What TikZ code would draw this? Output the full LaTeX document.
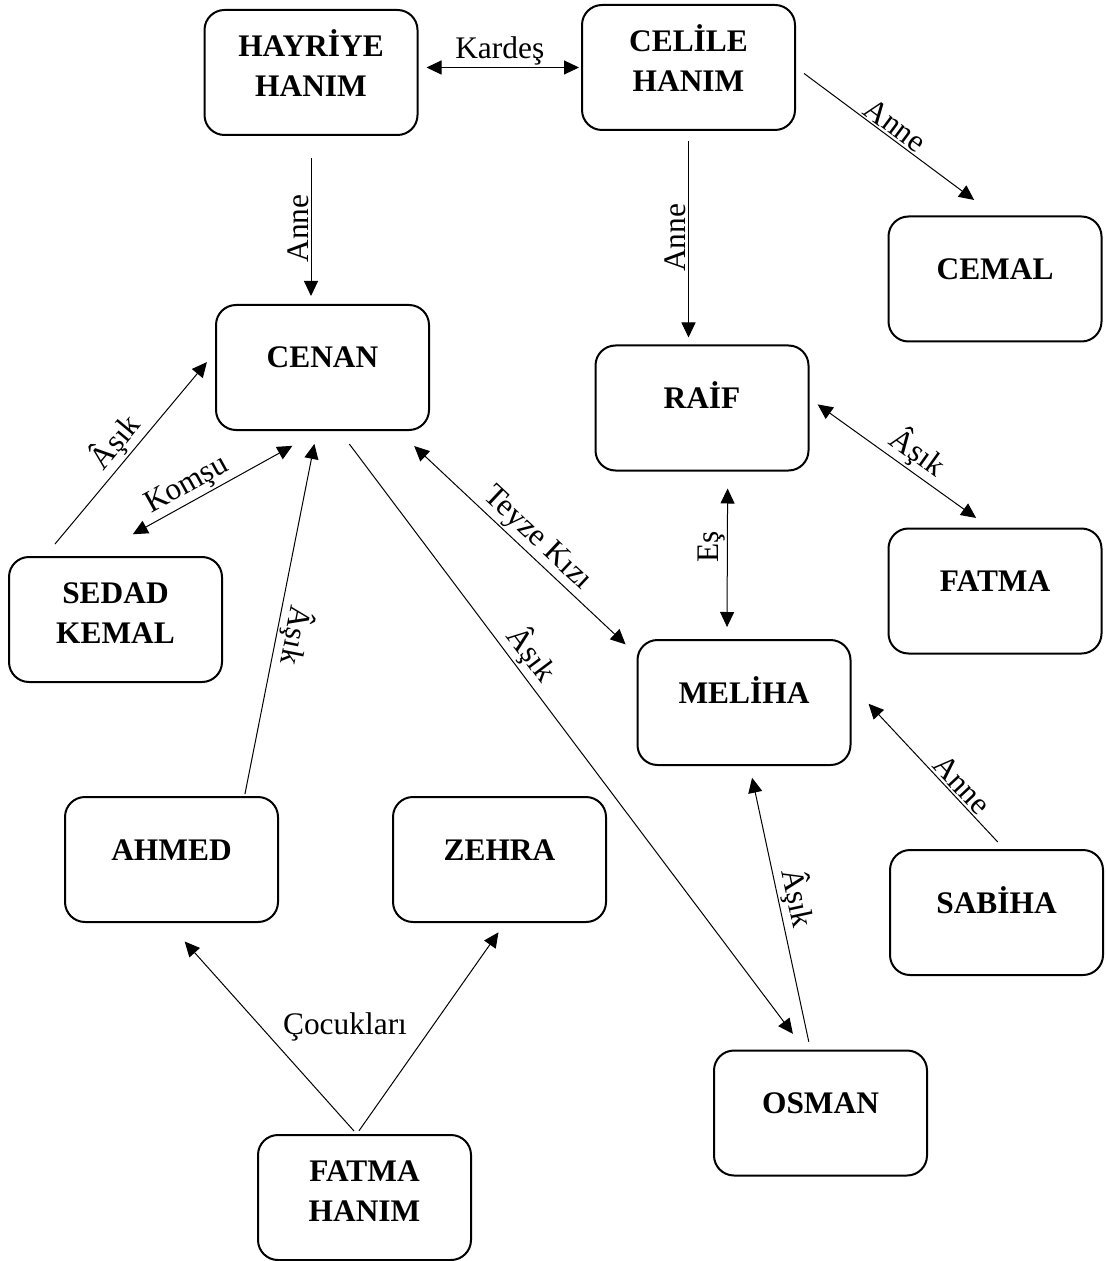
\documentclass[tikz,border=0pt]{standalone}
\usepackage{fontspec}
\setmainfont{Liberation Serif}
\usepackage{tikz}
\usetikzlibrary{arrows.meta}
\tikzstyle{kisi} = [rectangle, rounded corners=10pt, minimum width=106.5pt, minimum height=62.5pt, text centered, draw=black, line width=1pt, font=\bfseries\fontsize{15.7}{20}\selectfont, text height=11pt, text depth=10.5pt]
\tikzstyle{kisiiki} = [kisi, align=center, text height=31pt, text depth=6.6pt]
\tikzstyle{etiket} = [font=\fontsize{15.7}{19}\selectfont, inner sep=1pt]
\tikzstyle{ok} = [line width=0.5pt, -{Triangle[length=7.5pt,width=7pt]}]
\tikzstyle{ciftok} = [line width=0.5pt, {Triangle[length=7.5pt,width=7pt]}-{Triangle[length=7.5pt,width=7pt]}]

\begin{document}
\begin{tikzpicture}[x=0.5pt, y=-0.5pt]
\useasboundingbox (0,0) rectangle (1106,1261);

% Kutular
\node (hayriye) [kisiiki] at (311,72.5) {HAYRİYE\\HANIM};
\node (celile) [kisiiki] at (688.5,67.5) {CELİLE\\HANIM};
\node (cemal) [kisi] at (995,279) {CEMAL};
\node (cenan) [kisi] at (322.5,367.5) {CENAN};
\node (raif) [kisi] at (702,408) {RAİF};
\node (fatma) [kisi] at (995,591) {FATMA};
\node (sedad) [kisiiki] at (115.5,619.5) {SEDAD\\KEMAL};
\node (meliha) [kisi] at (744,702.5) {MELİHA};
\node (ahmed) [kisi] at (171.5,859.5) {AHMED};
\node (zehra) [kisi] at (499.5,859.5) {ZEHRA};
\node (sabiha) [kisi] at (996.5,912.5) {SABİHA};
\node (osman) [kisi] at (820.5,1113) {OSMAN};
\node (fatmah) [kisiiki] at (364.5,1197.5) {FATMA\\HANIM};
\node (cocuk) [etiket] at (345,1027) {Çocukları}; % iki okun ortak etiketi

% Oklar
\draw [ciftok, shorten <=4pt, shorten >=1pt] (hayriye.east |- celile.west) -- (celile.west) node [etiket, midway, above] {Kardeş};
\draw [ok, shorten <=11pt, shorten >=4pt] (hayriye.south) -- (hayriye.south |- cenan.north) node [etiket, pos=0.55, rotate=90, anchor=south] {Anne};
\draw [ok, shorten <=5pt, shorten >=13pt] (celile.east) -- (cemal.north) node [etiket, pos=0.46, above, sloped] {Anne};
\draw [ok, shorten <=5pt, shorten >=3.5pt] (celile.south) -- (celile.south |- raif.north) node [etiket, midway, rotate=90, anchor=south] {Anne};
\draw [ok, shorten <=7.8pt, shorten >=6.3pt] (sedad.138) -- (cenan.172) node [etiket, midway, above, sloped] {Âşık};
\draw [ciftok, shorten <=22.4pt, shorten >=15.3pt] (sedad.109) -- (cenan.267) node [etiket, pos=0.45, above, sloped] {Komşu};
\draw [ok, shorten <=1pt, shorten >=6.6pt] (ahmed.41) -- (cenan.265) node [etiket, pos=0.45, rotate=-101.25, anchor=south] {Âşık};
\draw [ok, shorten <=8.2pt, shorten >=9.8pt] (cenan.285) -- (osman.104) node [etiket, pos=0.38, above, sloped] {Âşık};
\draw [ciftok, shorten <=11pt, shorten >=7.5pt] (cenan.320) -- (meliha.156) node [etiket, pos=0.535, above, sloped] {Teyze Kızı};
\draw [ciftok, shorten <=8.5pt, shorten >=6pt] (raif.292) -- (meliha.105) node [etiket, pos=0.45, rotate=90, anchor=south] {Eş};
\draw [ciftok, shorten <=5pt, shorten >=8.2pt] (raif.5) -- (fatma.95) node [etiket, pos=0.54, above, sloped] {Âşık};
\draw [ok, shorten <=4.8pt, shorten >=12.5pt] (sabiha.83) -- (meliha.9) node [etiket, pos=0.34, above, sloped] {Anne};
\draw [ok, shorten <=4pt, shorten >=6pt] (osman.99) -- (meliha.275) node [etiket, pos=0.52, above, sloped] {Âşık};
\draw [ok, shorten <=2pt, shorten >=12.4pt] (fatmah.97) -- (ahmed.267);
\draw [ok, shorten <=2pt, shorten >=5.7pt] (fatmah.97) -- (zehra.275);

\end{tikzpicture}
\end{document}
